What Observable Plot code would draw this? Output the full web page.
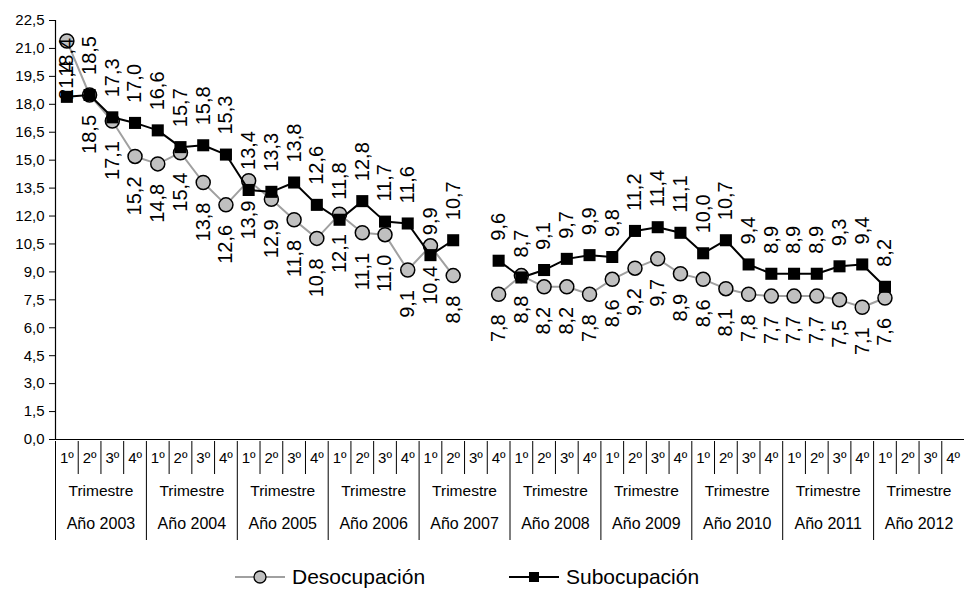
<!DOCTYPE html>
<html><head><meta charset="utf-8">
<script src="https://cdn.jsdelivr.net/npm/d3@7"></script>
<script src="https://cdn.jsdelivr.net/npm/@observablehq/plot@0.6"></script>
<style>
body{margin:0;background:#fff;font-family:"Liberation Sans",Arial,sans-serif;}
#chart{position:relative;width:965px;height:599px;overflow:hidden;background:#fff;}
#chart svg{display:block;}
.leg{position:absolute;top:564px;height:26px;display:flex;align-items:center;font-size:21px;color:#000;}
.leg svg{margin-right:6px;}
</style></head><body><div id="chart"></div>
<script>
// ---- data ----
const years = [2003, 2004, 2005, 2006, 2007, 2008, 2009, 2010, 2011, 2012];
const quarters = ["1º", "2º", "3º", "4º"];
const quarterWord = "Trimestre";
const yearWord = "Año";
const seriesNames = ["Desocupación", "Subocupación"];
const desocupacion = [21.4, 18.5, 17.1, 15.2, 14.8, 15.4, 13.8, 12.6, 13.9, 12.9, 11.8, 10.8,
  12.1, 11.1, 11.0, 9.1, 10.4, 8.8, null, 7.8, 8.8, 8.2, 8.2, 7.8, 8.6, 9.2, 9.7, 8.9,
  8.6, 8.1, 7.8, 7.7, 7.7, 7.7, 7.5, 7.1, 7.6, null, null, null];
const subocupacion = [18.4, 18.5, 17.3, 17.0, 16.6, 15.7, 15.8, 15.3, 13.4, 13.3, 13.8, 12.6,
  11.8, 12.8, 11.7, 11.6, 9.9, 10.7, null, 9.6, 8.7, 9.1, 9.7, 9.9, 9.8, 11.2, 11.4, 11.1,
  10.0, 10.7, 9.4, 8.9, 8.9, 8.9, 9.3, 9.4, 8.2, null, null, null];
const yTicks = [0, 1.5, 3, 4.5, 6, 7.5, 9, 10.5, 12, 13.5, 15, 16.5, 18, 19.5, 21, 22.5];

// ---- table ----
const rows = years.flatMap((yr, yi) => quarters.map((q, qi) => {
  const k = yi * 4 + qi;
  return {k, year: yr, quarter: q, des: desocupacion[k] ?? NaN, sub: subocupacion[k] ?? NaN};
}));
const yearRows = years.map((yr, yi) => ({yi, year: yr}));
const fmt = v => v.toFixed(1).replace(".", ",");
const FONT = "Liberation Sans, Arial, sans-serif";
const W = 965, ML = 55, MR = 1;
const xc = d => d.k + 0.5;

const main = Plot.plot({
  width: W, height: 440, marginTop: 20, marginBottom: 1, marginLeft: ML, marginRight: MR,
  style: {fontFamily: FONT, overflow: "visible", background: "white", color: "black"},
  x: {domain: [0, 40], axis: null},
  y: {domain: [0, 22.5], axis: null},
  marks: [
    Plot.axisY({ticks: yTicks, tickFormat: fmt, tickSize: 6, tickPadding: 5, fontSize: 15, label: null, stroke: "black"}),
    Plot.ruleX([0], {stroke: "black", strokeWidth: 1.2}),
    Plot.ruleY([0], {stroke: "black", strokeWidth: 1.2}),
    Plot.line(rows, {x: xc, y: "des", stroke: "#a0a0a0", strokeWidth: 2}),
    Plot.dot(rows, {x: xc, y: "des", r: 7, fill: "#c0c0c0", stroke: "black", strokeWidth: 1.5}),
    Plot.line(rows, {x: xc, y: "sub", stroke: "black", strokeWidth: 2}),
    Plot.dot(rows, {x: xc, y: "sub", symbol: "square", r: 6.8, fill: "black", stroke: "none"}),
    Plot.text(rows.filter(d => isFinite(d.sub)), {x: xc, y: "sub", text: d => fmt(d.sub), rotate: -90,
      textAnchor: "start", dy: -20, fontSize: 20, fill: "black"}),
    Plot.text(rows.filter(d => isFinite(d.des)), {x: xc, y: "des", text: d => fmt(d.des), rotate: -90,
      textAnchor: "end", dy: 20, fontSize: 20, fill: "black"})
  ]
});

const table = Plot.plot({
  width: W, height: 101, marginTop: 0, marginBottom: 0, marginLeft: ML, marginRight: MR,
  style: {fontFamily: FONT, overflow: "visible", background: "white", color: "black"},
  x: {domain: [0, 40], axis: null},
  y: {domain: ["q", "t", "a"], axis: null, padding: 0},
  marks: [
    Plot.tickX(rows, {x: "k", y: () => "q", stroke: "black"}),
    Plot.tickX(yearRows, {x: d => d.yi * 4, y: () => "t", stroke: "black"}),
    Plot.tickX(yearRows, {x: d => d.yi * 4, y: () => "a", stroke: "black"}),
    Plot.text(rows, {x: xc, y: () => "q", text: "quarter", fontSize: 15, fill: "black"}),
    Plot.text(yearRows, {x: d => d.yi * 4 + 2, y: () => "t", text: () => quarterWord, fontSize: 15.5, fill: "black"}),
    Plot.text(yearRows, {x: d => d.yi * 4 + 2, y: () => "a", text: d => yearWord + " " + d.year, fontSize: 16, fill: "black"})
  ]
});

const chart = document.getElementById("chart");
chart.appendChild(main);
chart.appendChild(table);

function legendItem(left, name, swatch) {
  const div = document.createElement("div");
  div.className = "leg";
  div.style.left = left + "px";
  div.innerHTML = swatch + `<span>${name}</span>`;
  chart.appendChild(div);
}
legendItem(234, seriesNames[0],
  `<svg width="52" height="20"><line x1="1" y1="10" x2="51" y2="10" stroke="#a0a0a0" stroke-width="2"/><circle cx="26" cy="10" r="6" fill="#c0c0c0" stroke="black" stroke-width="1.3"/></svg>`);
legendItem(508, seriesNames[1],
  `<svg width="52" height="20"><line x1="1" y1="10" x2="51" y2="10" stroke="black" stroke-width="2"/><rect x="21" y="5" width="10" height="10" fill="black"/></svg>`);
</script></body></html>
